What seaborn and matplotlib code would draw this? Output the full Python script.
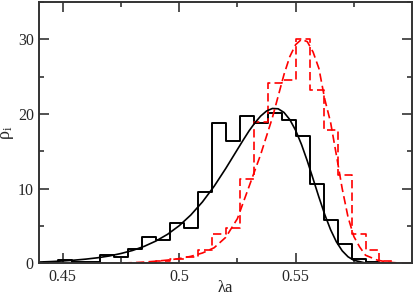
import matplotlib
matplotlib.use("Agg")
import matplotlib.pyplot as plt
from matplotlib.ticker import MultipleLocator, FuncFormatter
import seaborn as sns

# Histograma negro (bordes de bins y alturas)
bordes_negro = [0.442, 0.448, 0.454, 0.460, 0.466, 0.472, 0.478, 0.484, 0.490,
                0.496, 0.502, 0.508, 0.514, 0.520, 0.526, 0.532, 0.538, 0.544,
                0.550, 0.556, 0.562, 0.568, 0.574, 0.580, 0.586]
alturas_negro = [0.15, 0.4, 0.25, 0.2, 1.1, 0.9, 1.9, 3.5, 3.2, 5.4, 4.8, 9.6,
                 18.8, 16.4, 19.7, 18.8, 20.2, 19.2, 17.0, 10.6, 5.8, 2.6, 0.6, 0.2]

# Histograma rojo
bordes_rojo = [0.484, 0.490, 0.496, 0.502, 0.508, 0.514, 0.520, 0.526, 0.532,
               0.538, 0.544, 0.550, 0.556, 0.562, 0.568, 0.574, 0.580, 0.586, 0.592]
alturas_rojo = [0.1, 0.3, 0.6, 0.9, 1.8, 4.0, 4.8, 11.3, 19.0, 24.2, 24.6, 30.0,
                23.2, 17.9, 11.8, 4.0, 1.8, 0.35]

# Curva de ajuste negra
x_curva_negro = [0.440, 0.445, 0.450, 0.455, 0.460, 0.465, 0.470, 0.475, 0.480,
                 0.485, 0.490, 0.495, 0.500, 0.505, 0.510, 0.515, 0.520, 0.525,
                 0.5275, 0.530, 0.5325, 0.535, 0.5375, 0.540, 0.5425, 0.545,
                 0.5475, 0.550, 0.5525, 0.555, 0.5575, 0.560, 0.5625, 0.565,
                 0.5675, 0.570, 0.5725, 0.575, 0.580, 0.585, 0.590]
y_curva_negro = [0.19, 0.25, 0.33, 0.44, 0.58, 0.76, 1.0, 1.33, 1.74, 2.29, 3.0,
                 3.9, 5.05, 6.49, 8.24, 10.33, 12.72, 15.26, 16.53, 17.75, 18.83,
                 19.74, 20.41, 20.75, 20.71, 20.22, 19.26, 17.82, 15.94, 13.73,
                 11.32, 8.87, 6.55, 4.52, 2.89, 1.69, 0.89, 0.42, 0.06, 0.004, 0.0]

# Curva de ajuste roja
x_curva_rojo = [0.460, 0.470, 0.480, 0.485, 0.490, 0.495, 0.500, 0.505, 0.510,
                0.515, 0.520, 0.525, 0.530, 0.535, 0.540, 0.545, 0.5475, 0.550,
                0.5525, 0.555, 0.5575, 0.560, 0.5625, 0.565, 0.5675, 0.570,
                0.5725, 0.575, 0.5775, 0.580, 0.585, 0.590, 0.595, 0.600]
y_curva_rojo = [0.0, 0.02, 0.1, 0.18, 0.3, 0.45, 0.65, 0.95, 1.4, 2.1, 3.5, 6.0,
                10.3, 14.6, 19.5, 25.3, 27.7, 29.3, 30.0, 29.7, 28.3, 26.1, 22.0,
                18.9, 14.5, 10.0, 6.2, 3.6, 2.2, 1.1, 0.45, 0.15, 0.05, 0.01]

# Ticks
ticks_x = [0.45, 0.5, 0.55]
ticks_x_menores = [0.475, 0.525, 0.575]

sns.set_style("ticks")
plt.rcParams['font.family'] = ['Liberation Serif', 'DejaVu Serif']
plt.rcParams['mathtext.fontset'] = 'custom'
plt.rcParams['mathtext.rm'] = 'Liberation Serif'
plt.rcParams['mathtext.it'] = 'Liberation Serif:italic'

fig, ax = plt.subplots(figsize=(4.15, 2.96), dpi=100)
fig.subplots_adjust(left=0.095, right=0.993, bottom=0.11, top=0.993)

centros_negro = [(a + b) / 2 for a, b in zip(bordes_negro[:-1], bordes_negro[1:])]
centros_rojo = [(a + b) / 2 for a, b in zip(bordes_rojo[:-1], bordes_rojo[1:])]

sns.histplot(x=centros_negro, weights=alturas_negro, bins=bordes_negro,
             element="step", fill=False, color="black", linewidth=1.4, ax=ax)
sns.histplot(x=centros_rojo, weights=alturas_rojo, bins=bordes_rojo,
             element="step", fill=False, color="#ff0000", linewidth=1.2,
             linestyle=(0, (5, 2.5)), ax=ax)

sns.lineplot(x=x_curva_negro, y=y_curva_negro, color="black", linewidth=1.2,
             sort=False, estimator=None, ax=ax)
sns.lineplot(x=x_curva_rojo, y=y_curva_rojo, color="#ff0000", linewidth=1.2,
             sort=False, estimator=None, ax=ax, linestyle=(0, (5, 2.5)))

ax.set_xlim(0.44, 0.6)
ax.set_ylim(0, 35)
ax.set_xticks(ticks_x)
ax.set_xticks(ticks_x_menores, minor=True)
ax.yaxis.set_major_locator(MultipleLocator(10))
ax.yaxis.set_minor_locator(MultipleLocator(5))
ax.xaxis.set_major_formatter(FuncFormatter(lambda v, _: f"{v:g}"))

ax.tick_params(which='both', direction='in', top=True, right=True,
               labelsize=11.5, width=1.2, color="#333333")
ax.tick_params(which='major', length=7, pad=4)
ax.tick_params(which='minor', length=3.5)
for s in ax.spines.values():
    s.set_linewidth(1.4)
    s.set_color("#333333")

ax.set_xlabel("λa", fontsize=12)
ax.xaxis.set_label_coords(0.5, -0.064)
ax.set_ylabel(r"$\mathrm{\rho}_{\mathrm{i}}$", fontsize=13, labelpad=1)
ax.grid(False)

plt.savefig("out.png", dpi=100)
plt.close()
